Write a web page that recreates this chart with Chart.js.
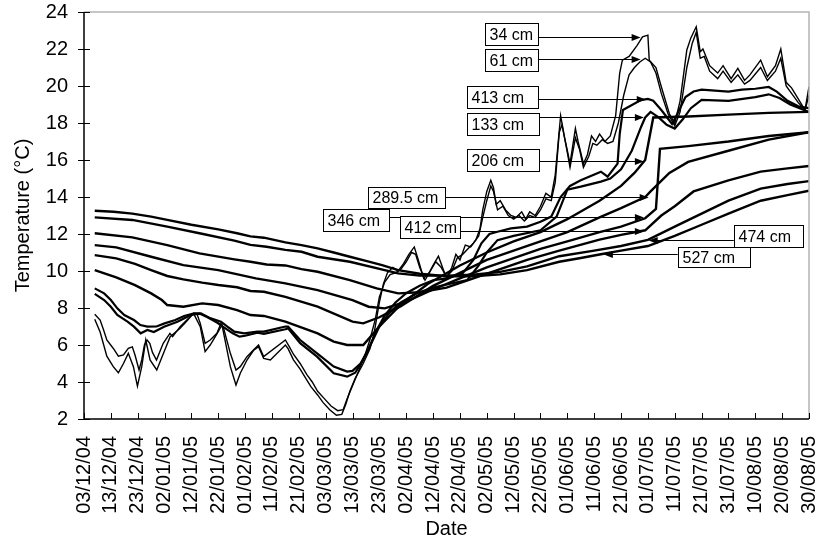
<!DOCTYPE html>
<html><head><meta charset="utf-8">
<script src="https://cdn.jsdelivr.net/npm/chart.js@4.4.0/dist/chart.umd.min.js"></script>
<style>html,body{margin:0;padding:0;background:#fff}</style>
</head><body>
<canvas id="c" width="818" height="544"></canvas>
<script>
// x = days since 03/12/04
const tickLabels = ['03/12/04','13/12/04','23/12/04','02/01/05','12/01/05','22/01/05','01/02/05','11/02/05','21/02/05','03/03/05','13/03/05','23/03/05','02/04/05','12/04/05','22/04/05','02/05/05','12/05/05','22/05/05','01/06/05','11/06/05','21/06/05','01/07/05','11/07/05','21/07/05','31/07/05','10/08/05','20/08/05','30/08/05'];

const d34 = [4,6,8.5,10.9,12.8,14.7,16.5,18.4,19.9,21.5, 23,24.6,27.1,29.6,32.1,35.8,38.3,40.8,43.3,45.1, 47,49.5,51.4,54.5,56.6,58.2,60.7,63.1,65,66.9, 69.4,75,76,78,80.5,83,84.5,87,89,91.5, 94,96,97.5,99,101,104,106.5,108,110,111.5, 113,115,117,119,121,123,124.5,126.5,128.5,130, 132,133.5,135,137,138.5,140,142,144,146,147.5, 148.5,150,151.5,152.5,153.5,155,157,159,161,163, 164.5,166,168,170,172,174,175.5,176.5,177.5,179, 180,181,183,184,186,187.5,189,190.5,192,194, 196,198,199.5,200.5,203,206,208,210,210.5,213, 215,218,220,222,224.5,226,228,229.5,230.5,233, 236,238,241,243.5,246,248,252,254.5,257.5,259.5, 261.5,263.5,266,268.5,270];
const t34 = [7.39,6.7,5.4,4.83,4.5,5.0,5.55,4.83,3.78,4.83, 6.27,5.19,4.65,5.55,6.45,6.9,7.3,7.71,6.99,5.64, 6.0,6.6,7.08,4.83,3.84,4.47,5.19,5.7,5.91,5.28, 5.19,6.0,5.8,5.2,4.7,4.1,3.75,3.3,2.9,2.5, 2.2,2.25,2.8,3.5,4.2,5.0,5.8,6.6,8.3,9.3, 9.9,10.2,10.0,10.4,10.9,11.3,10.6,9.6,9.9,10.3, 10.8,10.2,9.6,10.2,10.9,10.6,11.4,11.3,11.7,12.3, 13.3,14.3,14.9,14.5,13.6,13.8,13.3,13.0,12.9,13.2, 12.8,13.2,13.0,13.5,14.2,14.0,15.2,16.8,18.4,17.2, 16.5,15.8,17.7,17.0,15.8,16.3,17.3,17.0,17.4,17.0, 17.3,18.4,20.7,21.4,21.6,22.2,22.66,22.75,21.4,21.0, 19.96,18.5,17.98,19.2,21.95,22.6,23.2,21.85,22.0,21.1, 20.7,21.1,20.4,20.95,20.3,20.6,21.4,20.5,21.1,22.0, 20.2,19.9,19.3,18.7,19.96];

const d61 = [4,6,7.3,8.5,11,12.8,14.7,16.5,18,19, 20.5,21.5,22.5,23.5,24.5,25.5,27,29.5,32,33, 35.8,38.3,40.8,42,43.3,45.1,47,49.5,51,52, 54.5,56.6,58.2,60.7,63.1,65,66.9,75,76.5,78, 80.5,83,85,87,89.5,92,94.5,96.5,98,100, 102,104.5,106.5,108.5,110,112,114,116,118,120, 122,123.5,125,127,129,131,133,135,137,139, 141,143,145,147,148.5,150,151.5,152.5,154,156, 158,160,162,164,166,168,170,172,174,175.5, 177,178,179.5,181,183,184.5,186,188,189.5,191, 193,195,197,199,201,203,205,207,209,211, 213,215,217.5,220,222,224.5,226.5,228,229.5,231, 233,236,238,241,243.5,246,248,252,254.5,257.5, 259.5,261.5,263.5,266,268.5,270];
const t61 = [7.66,7.35,6.81,6.27,5.8,5.4,5.46,5.82,5.9,5.46, 4.65,5.19,6.0,6.27,6.09,5.6,5.19,6.09,6.63,6.45, 6.99,7.35,7.71,7.71,7.17,6.09,6.27,6.63,7.17,6.9, 5.55,4.65,4.83,5.37,5.73,6.0,5.37,6.27,5.9,5.5, 5.0,4.4,4.0,3.5,3.1,2.7,2.45,2.5,3.1,3.8, 4.5,5.4,6.3,7.4,8.6,9.4,9.8,9.9,10.1,10.5, 11.0,10.9,10.2,9.5,10.0,10.5,10.2,9.7,10.0,10.7, 10.9,11.2,11.5,11.9,12.9,13.8,14.6,14.3,13.3,13.5, 13.0,12.8,13.0,12.7,13.0,12.9,13.3,13.9,13.8,14.8, 17.5,17.9,16.8,15.6,17.2,16.6,15.6,16.2,16.9,16.8, 17.1,16.9,17.0,18.0,19.5,20.6,21.0,21.3,21.5,21.3, 20.7,19.6,18.5,17.85,18.6,21.0,22.3,22.9,21.5,21.6, 20.8,20.4,20.8,20.2,20.6,20.1,20.3,21.0,20.3,20.8, 21.5,20.0,19.6,19.1,18.7,19.5];

const d413 = [4,7.5,10,12.4,15,18.6,21,23.6,27,30, 34,37.3,41,43.5,47.2,51,53.4,56,59.7,64.6, 67,75,76,80.5,86.8,93,98,100,103,106, 109,112,116,120,125,130,135,141,145,148, 151,154,159,165,170,174,177.5,181,185,192.5, 195,198.7,199.5,200.7,207.4,210,212,215,219,221, 224,227,230,240,245,250,255,258,262,266, 270];
const t413 = [9.06,8.79,8.43,7.98,7.62,7.35,7.08,6.99,7.0,7.17, 7.35,7.57,7.71,7.71,7.44,7.26,6.99,6.72,6.63,6.72, 6.72,7.0,6.99,6.27,5.55,4.83,4.56,4.6,5.0,5.8, 6.8,7.6,8.3,8.8,9.2,9.5,9.6,9.87,10.6,11.5, 12.0,12.12,12.3,12.4,12.66,12.94,14.0,14.6,14.9,15.37, 15.1,15.8,17.4,18.7,19.24,19.3,19.2,18.7,17.95,18.5, 19.4,19.7,19.8,19.7,19.8,19.85,19.95,19.7,19.2,18.9, 18.8];

const d133 = [4,7.5,10,12.4,16.2,18.6,21.1,23.6,26,29.8, 34.8,39.8,43,46,49.7,51.7,55.4,57.9,60,64.6, 67,75,76,80.5,86.8,93,98,101,104,107, 110,114,118,124,130,136,142.7,147,150,154, 160,170,176,180,185,192.5,196,200,204,207.5, 209,211,214,217,220,223,226,230,240,250, 255,259,263,270];
const t133 = [8.76,8.43,8.07,7.62,7.26,6.99,6.63,6.81,6.7,6.99, 7.26,7.62,7.7,7.5,7.2,6.99,6.63,6.45,6.5,6.66, 6.6,6.85,6.9,6.1,5.37,4.47,4.29,4.5,5.2,6.1, 7.0,7.8,8.3,8.8,9.1,9.3,9.51,10.3,11.0,11.67, 11.9,12.2,12.94,14.4,14.56,14.83,15.0,15.5,16.5,17.8, 18.3,18.6,18.3,17.9,17.7,18.2,18.8,19.25,19.2,19.4, 19.55,19.35,19.0,18.6];

const d206 = [4,12,19,25,29,31,37,44,50,57, 62,67,75,87,93,98,104,110,118,128, 140,150,160,170,180,192,200,205,209,212, 225,240,255,270];
const t206 = [10.05,9.66,9.24,8.79,8.43,8.16,8.07,8.25,8.16,7.89, 7.62,7.57,7.26,6.63,6.18,6.0,6.0,7.0,8.2,9.3, 10.3,11.0,11.6,12.1,12.8,13.8,14.6,15.3,16.0,18.3, 18.35,18.45,18.55,18.6];

const d289 = [4,12,19,25,31,37,44,50,57,62, 67,75,87,100,104,110,118,130,140,150, 160,170,180,192,200,209,211,218,225,240, 255,270];
const t289 = [10.86,10.68,10.38,10.05,9.73,9.55,9.37,9.24,9.12,8.92, 8.88,8.6,8.07,7.26,7.17,7.5,8.1,9.2,9.9,10.6, 11.1,11.6,12.1,12.9,13.4,14.0,14.3,15.3,15.9,16.5, 17.1,17.5];

const d346 = [4,12,25,37,50,64,75,87,100,106, 112,120,130,140,150,160,170,180,192,200, 209,213,214.5,225,240,255,270];
const t346 = [11.4,11.28,10.77,10.32,10.05,9.6,9.33,8.97,8.43,8.07, 7.98,8.35,9.0,9.6,10.2,10.7,11.2,11.6,12.1,12.4, 12.85,13.35,16.6,16.75,17.0,17.3,17.5];

const d412 = [4,18,31,43,56,62,68,75,81,87, 99,109,117,125,135,145,155,165,177,192, 200,209,215,220,227,240,252,262,270];
const t412 = [12.04,11.82,11.4,10.95,10.63,10.5,10.35,10.3,10.1,9.96, 9.51,9.06,8.79,8.85,9.1,9.6,10.1,10.6,11.1,11.7, 11.95,12.2,13.0,13.5,14.3,14.9,15.37,15.55,15.68];

const d474 = [4,18,31,43,56,62,68,75,81,87, 99,112,117,125,135,145,155,165,177,190, 200,210,220,230,240,252,262,270];
const t474 = [12.9,12.76,12.4,12.04,11.64,11.41,11.31,11.14,11.04,10.77, 10.5,10.05,9.87,9.75,9.75,9.8,9.95,10.25,10.8,11.1, 11.35,11.68,12.4,13.1,13.8,14.45,14.7,14.86];

const d527 = [4,11,18,25,31,40,50,57,62,67, 75,81,87,93,99,105,111,117,125,135, 145,155,165,177,185,193,200,210,220,230, 240,252,262,270];
const t527 = [13.26,13.2,13.1,12.94,12.76,12.5,12.25,12.04,11.87,11.8, 11.55,11.4,11.22,11.0,10.77,10.55,10.32,10.05,9.85,9.72, 9.72,9.82,10.05,10.5,10.7,10.92,11.1,11.35,11.9,12.5, 13.1,13.8,14.1,14.34];

const FONT = '"Liberation Sans", Arial, Helvetica, sans-serif';

function pts(d, t) { return d.map((x, i) => ({ x: x, y: t[i] })); }

const seriesList = [
  { label: '527 cm', d: d527, t: t527, w: 2.4 },
  { label: '474 cm', d: d474, t: t474, w: 2.4 },
  { label: '412 cm', d: d412, t: t412, w: 2.4 },
  { label: '346 cm', d: d346, t: t346, w: 2.4 },
  { label: '289.5 cm', d: d289, t: t289, w: 2.4 },
  { label: '206 cm', d: d206, t: t206, w: 2.4 },
  { label: '133 cm', d: d133, t: t133, w: 2.2 },
  { label: '413 cm', d: d413, t: t413, w: 2.2 },
  { label: '61 cm', d: d61, t: t61, w: 1.4 },
  { label: '34 cm', d: d34, t: t34, w: 1.4 }
];

const datasets = seriesList.map(s => ({
  label: s.label, data: pts(s.d, s.t), borderColor: '#000', borderWidth: s.w,
  pointRadius: 0, tension: 0, fill: false, borderJoinStyle: 'miter'
}));

// label boxes: x in days, y in degC
const notes = [
  { text: '34 cm',    x0: 149.2, x1: 168.9, yT: 23.41, yB: 22.22, ay: 22.65, tip: 207.3, side: 'L' },
  { text: '61 cm',    x0: 149.2, x1: 168.9, yT: 22.0,  yB: 20.81, ay: 21.46, tip: 207.3, side: 'L' },
  { text: '413 cm',   x0: 142.8, x1: 168.9, yT: 20.0,  yB: 18.81, ay: 19.3,  tip: 209.2, side: 'L' },
  { text: '133 cm',   x0: 142.8, x1: 169.3, yT: 18.54, yB: 17.35, ay: 18.32, tip: 208.5, side: 'L' },
  { text: '206 cm',   x0: 142.8, x1: 169.3, yT: 16.59, yB: 15.41, ay: 15.95, tip: 208.5, side: 'L' },
  { text: '289.5 cm', x0: 105.9, x1: 134.3, yT: 14.54, yB: 13.41, ay: 14.0,  tip: 210.3, side: 'L' },
  { text: '346 cm',   x0: 89.1,  x1: 113.4, yT: 13.35, yB: 12.16, ay: 12.92, tip: 208.5, side: 'L' },
  { text: '412 cm',   x0: 117.5, x1: 140.2, yT: 12.97, yB: 11.78, ay: 12.16, tip: 208.5, side: 'L' },
  { text: '474 cm',   x0: 242.0, x1: 267.8, yT: 12.49, yB: 11.3,  ay: 11.68, tip: 210.3, side: 'R' },
  { text: '527 cm',   x0: 221.1, x1: 248.0, yT: 11.3,  yB: 10.22, ay: 10.92, tip: 193.6, side: 'R' }
];

const deco = {
  id: 'deco',
  afterDatasetsDraw(chart) {
    const ctx = chart.ctx, xs = chart.scales.x, ys = chart.scales.y;
    ctx.save();
    notes.forEach(n => {
      const y = Math.round(ys.getPixelForValue(n.ay)) + 0.5;
      const tx = xs.getPixelForValue(n.tip);
      const sx = n.side === 'L' ? xs.getPixelForValue(n.x1) : xs.getPixelForValue(n.x0);
      const dir = n.side === 'L' ? 1 : -1;
      ctx.strokeStyle = '#000'; ctx.lineWidth = 1.2;
      ctx.beginPath(); ctx.moveTo(sx, y); ctx.lineTo(tx - dir * 7, y); ctx.stroke();
      ctx.fillStyle = '#000';
      ctx.beginPath(); ctx.moveTo(tx, y); ctx.lineTo(tx - dir * 9, y - 3.5); ctx.lineTo(tx - dir * 9, y + 3.5); ctx.closePath(); ctx.fill();
    });
    notes.forEach(n => {
      const x0 = Math.round(xs.getPixelForValue(n.x0)) + 0.5, x1 = Math.round(xs.getPixelForValue(n.x1)) + 0.5;
      const y0 = Math.round(ys.getPixelForValue(n.yT)) + 0.5, y1 = Math.round(ys.getPixelForValue(n.yB)) + 0.5;
      ctx.fillStyle = '#fff'; ctx.fillRect(x0, y0, x1 - x0, y1 - y0);
      ctx.strokeStyle = '#000'; ctx.lineWidth = 1; ctx.strokeRect(x0, y0, x1 - x0, y1 - y0);
      ctx.fillStyle = '#000'; ctx.font = '16px ' + FONT; ctx.textAlign = 'left'; ctx.textBaseline = 'middle';
      ctx.fillText(n.text, x0 + 4, (y0 + y1) / 2 + 1);
    });
    ctx.restore();
  },
  afterDraw(chart) {
    const ctx = chart.ctx, a = chart.chartArea, xs = chart.scales.x, ys = chart.scales.y;
    ctx.save();
    ctx.strokeStyle = '#b4b4b4'; ctx.lineWidth = 1.5;
    ctx.beginPath(); ctx.moveTo(a.left, a.top); ctx.lineTo(a.right, a.top); ctx.lineTo(a.right, a.bottom); ctx.stroke();
    ctx.strokeStyle = '#000'; ctx.lineWidth = 1.5;
    ctx.beginPath(); ctx.moveTo(a.left, a.top); ctx.lineTo(a.left, a.bottom); ctx.lineTo(a.right, a.bottom); ctx.stroke();
    ctx.lineWidth = 1;
    ys.ticks.forEach(t => {
      const y = Math.round(ys.getPixelForValue(t.value)) + 0.5;
      ctx.beginPath(); ctx.moveTo(a.left - 6, y); ctx.lineTo(a.left + 6, y); ctx.stroke();
    });
    xs.ticks.forEach(t => {
      const x = Math.round(xs.getPixelForValue(t.value)) + 0.5;
      ctx.beginPath(); ctx.moveTo(x, a.bottom); ctx.lineTo(x, a.bottom - 6); ctx.stroke();
    });
    ctx.fillStyle = '#000'; ctx.font = '20px ' + FONT; ctx.textAlign = 'center'; ctx.textBaseline = 'middle';
    ctx.fillText('Date', (a.left + a.right) / 2, 529);
    ctx.translate(23, (a.top + a.bottom) / 2); ctx.rotate(-Math.PI / 2);
    ctx.fillText('Temperature (\u00B0C)', 0, 0);
    ctx.restore();
  }
};

new Chart(document.getElementById('c'), {
  type: 'line',
  data: { datasets: datasets },
  options: {
    responsive: false, animation: false,
    plugins: { legend: { display: false }, tooltip: { enabled: false } },
    layout: { padding: { top: 12, right: 9, left: 0, bottom: 0 } },
    scales: {
      x: {
        type: 'linear', min: 0, max: 270,
        grid: { display: false, drawTicks: false }, border: { display: false },
        ticks: { stepSize: 10, autoSkip: false, maxRotation: 90, minRotation: 90, padding: 17,
          color: '#000', font: { family: FONT, size: 20 },
          callback: (v, i) => tickLabels[i] },
        afterFit: s => { s.height = 125; s.paddingLeft = 0; s.paddingRight = 0; }
      },
      y: {
        min: 2, max: 24,
        grid: { display: false, drawTicks: false }, border: { display: false },
        ticks: { stepSize: 2, padding: 16, color: '#000', font: { family: FONT, size: 20 } },
        afterFit: s => { s.width = 84; s.paddingTop = 0; s.paddingBottom = 0; }
      }
    }
  },
  plugins: [deco]
});
</script>
</body></html>
